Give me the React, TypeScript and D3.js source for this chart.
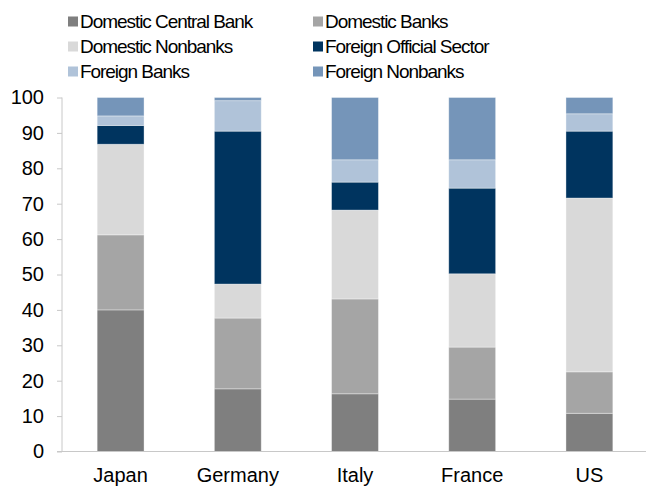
import React, { useEffect, useRef } from "react";
import * as d3 from "d3";

// holders of government debt, % of total
const countries = ["Japan", "Germany", "Italy", "France", "US"];
const seriesNames = [
  "Domestic Central Bank",
  "Domestic Banks",
  "Domestic Nonbanks",
  "Foreign Official Sector",
  "Foreign Banks",
  "Foreign Nonbanks",
];
const centralBank = [40.0, 17.7, 16.3, 14.8, 10.8];
const domesticBanks = [21.2, 20.0, 26.8, 14.7, 11.7];
const domesticNonbanks = [25.6, 9.6, 25.1, 20.7, 49.1];
const foreignOfficial = [5.3, 43.2, 7.9, 24.2, 18.9];
const foreignBanks = [2.7, 8.6, 6.3, 8.0, 4.9];
const foreignNonbanks = [5.2, 0.9, 17.6, 17.6, 4.6];
const yTicks = [0, 10, 20, 30, 40, 50, 60, 70, 80, 90, 100];

const colors = ["#7f7f7f", "#a5a5a5", "#d9d9d9", "#00345f", "#b0c3d9", "#7595b9"];

export default function App() {
  const ref = useRef<SVGSVGElement>(null);

  useEffect(() => {
    const width = 646;
    const height = 486;
    const margin = { top: 97.5, right: 0, bottom: 34.5, left: 62 };

    const svg = d3.select(ref.current);
    svg.selectAll("*").remove();
    svg.attr("width", width).attr("height", height);

    const allSeries = [centralBank, domesticBanks, domesticNonbanks, foreignOfficial, foreignBanks, foreignNonbanks];
    const rows = countries.map((c, i) => {
      const row: any = { country: c };
      seriesNames.forEach((s, j) => (row[s] = allSeries[j][i]));
      return row;
    });

    const x = d3.scaleBand().domain(countries).range([margin.left, 648]).paddingInner(0.6).paddingOuter(0.3);
    const y = d3.scaleLinear().domain([0, 100]).range([height - margin.bottom, margin.top]);
    const color = d3.scaleOrdinal<string>().domain(seriesNames).range(colors);

    const stacked = d3.stack().keys(seriesNames)(rows);

    svg.append("g").selectAll("g").data(stacked).join("g")
      .attr("fill", (d) => color(d.key))
      .selectAll("rect").data((d) => d).join("rect")
      .attr("x", (d: any) => x(d.data.country)!)
      .attr("y", (d) => y(d[1]))
      .attr("width", x.bandwidth())
      .attr("height", (d) => y(d[0]) - y(d[1]))
      .attr("stroke", "#ffffff").attr("stroke-opacity", 0.45).attr("stroke-width", 0.8);

    const font = "Liberation Sans, Arial, sans-serif";

    // y axis
    const yAxis = svg.append("g").attr("transform", `translate(${margin.left},0)`)
      .call(d3.axisLeft(y).tickValues(yTicks).tickSize(5).tickPadding(13));
    yAxis.select(".domain").attr("stroke", "#c8c8c8").attr("d", `M0,${y(0)}V${y(100)}`);
    yAxis.selectAll(".tick line").attr("stroke", "#c8c8c8");
    yAxis.selectAll(".tick text").attr("fill", "#000").style("font-family", font).style("font-size", "20px");

    // x axis
    const xAxis = svg.append("g").attr("transform", `translate(0,${y(0)})`)
      .call(d3.axisBottom(x).tickSize(0).tickPadding(16));
    xAxis.select(".domain").attr("stroke", "#c8c8c8").attr("d", `M${margin.left - 5},0H${width}`);
    xAxis.selectAll(".tick text").attr("fill", "#000").style("font-family", font).style("font-size", "20px");

    // legend, two columns
    const legend = svg.append("g");
    const items = legend.selectAll("g").data(seriesNames).join("g")
      .attr("transform", (d, i) => `translate(${i % 2 === 0 ? 68 : 313},${21.5 + Math.floor(i / 2) * 25})`);
    items.append("rect").attr("x", 0).attr("y", -5).attr("width", 10).attr("height", 10).attr("fill", (d) => color(d));
    items.append("text").attr("x", 12).attr("y", 0).attr("dy", "0.36em")
      .style("font-family", font).style("font-size", "19px").style("letter-spacing", "-1.05px")
      .text((d) => d);
  }, []);

  return (
    <div style={{ position: "absolute", left: 0, top: 0 }}>
      <svg ref={ref}></svg>
    </div>
  );
}
